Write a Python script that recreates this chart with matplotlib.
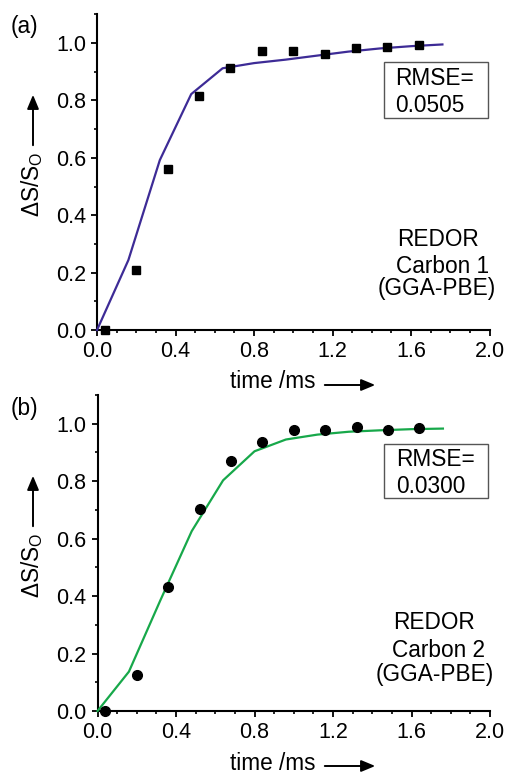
import matplotlib
matplotlib.use("Agg")
import matplotlib.pyplot as plt
from matplotlib.ticker import MultipleLocator, FixedLocator
from matplotlib.patches import Rectangle

plt.rcParams['font.family'] = ['Liberation Sans', 'DejaVu Sans']

# ---- data ----
t_exp = [0.04, 0.20, 0.36, 0.52, 0.68, 0.84, 1.00, 1.16, 1.32, 1.48, 1.64]
s1_exp = [0.0, 0.21, 0.562, 0.815, 0.912, 0.972, 0.973, 0.963, 0.981, 0.986, 0.993]
s2_exp = [0.0, 0.126, 0.43, 0.703, 0.869, 0.935, 0.977, 0.977, 0.987, 0.978, 0.985]

t_sim = [0.0, 0.16, 0.32, 0.48, 0.64, 0.80, 0.96, 1.12, 1.28, 1.44, 1.60, 1.76]
s1_sim = [0.0, 0.244, 0.592, 0.822, 0.912, 0.930, 0.942, 0.956, 0.970, 0.981, 0.989, 0.995]
s2_sim = [0.0, 0.137, 0.385, 0.626, 0.803, 0.904, 0.945, 0.962, 0.972, 0.977, 0.981, 0.983]

x_ticks = [0.0, 0.4, 0.8, 1.2, 1.6, 2.0]
x_ticklabels = ["0.0", "0.4", "0.8", "1.2", "1.6", "2.0"]
y_ticks = [0.0, 0.2, 0.4, 0.6, 0.8, 1.0]
y_ticklabels = ["0.0", "0.2", "0.4", "0.6", "0.8", "1.0"]

W, H = 509, 774


def fx(px):
    return px / W


def fy(py):
    return 1 - py / H


panels = [
    dict(tag="(a)", exp=s1_exp, sim=s1_sim, color="#3d2b96", marker="s", ms=6.2,
         rmse=("RMSE=", "0.0505"), carbon="Carbon 1",
         rect=[0.1906, 0.5736, 0.7711, 0.4079], dy=0,
         rmse_y=(0.878, 0.784), box=(1.46, 0.739, 0.53, 0.195),
         redor=[(1.529, 0.317), (1.524, 0.220), (1.432, 0.143)]),
    dict(tag="(b)", exp=s2_exp, sim=s2_sim, color="#17a84a", marker="o", ms=7.0,
         rmse=("RMSE=", "0.0300"), carbon="Carbon 2",
         rect=[0.1916, 0.0814, 0.7711, 0.4083], dy=381,
         rmse_y=(0.877, 0.781), box=(1.46, 0.742, 0.53, 0.189),
         redor=[(1.504, 0.308), (1.502, 0.210), (1.419, 0.126)]),
]

fig = plt.figure(figsize=(W / 100, H / 100), dpi=100)
FS_TICK = 15.5
FS_TXT = 16.3

for p in panels:
    ax = fig.add_axes(p["rect"])
    ax.plot(t_sim, p["sim"], color=p["color"], lw=1.6, zorder=3, clip_on=False)
    ax.plot(t_exp, p["exp"], linestyle="none", marker=p["marker"], ms=p["ms"],
            color="black", zorder=4, clip_on=False)
    ax.set_xlim(0, 2.0)
    ax.set_ylim(0, 1.1)
    for s in ["top", "right"]:
        ax.spines[s].set_visible(False)
    for s in ["left", "bottom"]:
        ax.spines[s].set_linewidth(1.5)
    ax.xaxis.set_major_locator(FixedLocator(x_ticks))
    ax.set_xticklabels(x_ticklabels)
    ax.xaxis.set_minor_locator(MultipleLocator(0.1))
    ax.yaxis.set_major_locator(FixedLocator(y_ticks))
    ax.set_yticklabels(y_ticklabels)
    ax.yaxis.set_minor_locator(MultipleLocator(0.1))
    ax.tick_params(which="major", direction="out", length=4, width=1.3,
                   labelsize=FS_TICK, pad=4)
    ax.tick_params(which="minor", direction="out", length=2.5, width=1.2)

    # RMSE box
    bx, by, bw, bh = p["box"]
    ax.add_patch(Rectangle((bx, by), bw, bh, fc="white", ec="#555555", lw=1.0,
                           zorder=2, clip_on=False))
    ax.text(1.52, p["rmse_y"][0], p["rmse"][0], ha="left", va="center",
            fontsize=FS_TXT, zorder=5)
    ax.text(1.52, p["rmse_y"][1], p["rmse"][1], ha="left", va="center",
            fontsize=FS_TXT, zorder=5)

    # REDOR text
    for (tx, ty), s in zip(p["redor"], ["REDOR", p["carbon"], "(GGA-PBE)"]):
        ax.text(tx, ty, s, ha="left", va="center", fontsize=FS_TXT)

    dy = p["dy"]
    # x label + arrow
    fig.text(fx(273), fy(382 + dy), "time /ms", fontsize=FS_TXT,
             ha="center", va="center")
    fig.patches.append(matplotlib.patches.FancyArrowPatch(
        (fx(322), fy(385 + dy)), (fx(378), fy(385 + dy)),
        transform=fig.transFigure, arrowstyle="-|>,head_length=0.6,head_width=0.25",
        mutation_scale=14, lw=1.4, color="black"))
    # y label + arrow
    fig.text(fx(32), fy(184 + dy), "\u0394S/S$_\\mathregular{O}$", fontsize=FS_TXT,
             ha="center", va="center", rotation=90)
    fig.patches.append(matplotlib.patches.FancyArrowPatch(
        (fx(33), fy(148 + dy)), (fx(33), fy(92 + dy)),
        transform=fig.transFigure, arrowstyle="-|>,head_length=0.6,head_width=0.25",
        mutation_scale=14, lw=1.4, color="black"))

    fig.text(fx(24), fy(27 + dy), p["tag"], fontsize=FS_TXT,
             ha="center", va="center")

fig.savefig("out.png", dpi=100)
